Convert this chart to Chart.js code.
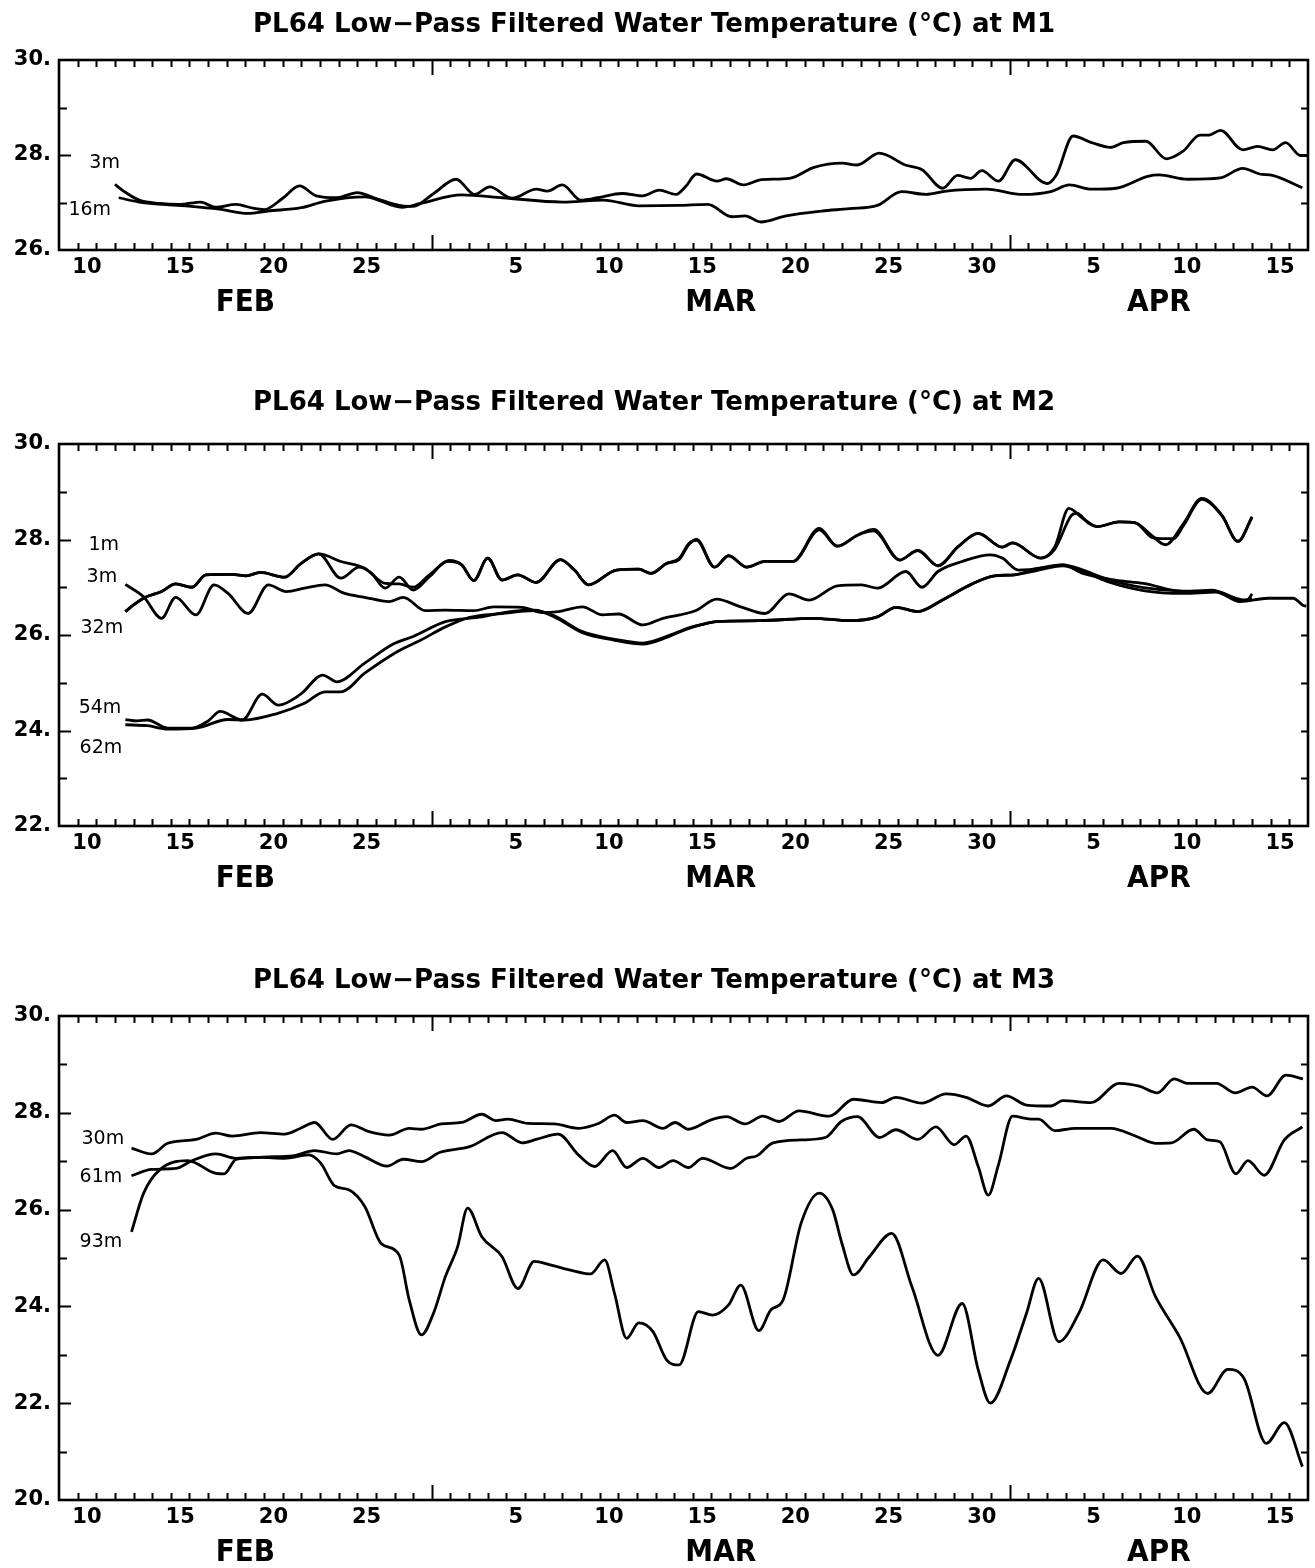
<!DOCTYPE html>
<html lang="en">
<head>
<meta charset="UTF-8">
<title>PL64 Low-Pass Filtered Water Temperature</title>
<script src="https://cdn.jsdelivr.net/npm/chart.js"></script>
<style>
  body { margin: 0; background: #fff; }
  #page { position: relative; width: 1315px; height: 1568px; }
  canvas { position: absolute; left: 0; }
</style>
</head>
<body>
<div id="page">
  <canvas id="m1" width="1315" height="330" style="top:0px"></canvas>
  <canvas id="m2" width="1315" height="540" style="top:370px"></canvas>
  <canvas id="m3" width="1315" height="628" style="top:940px"></canvas>
</div>
<script>
// time is in days since Jan 1 00:00 (so 59 = Mar 1, 90 = Apr 1)
const monthNames = ['FEB', 'MAR', 'APR'];
const monthEdges = [39, 59, 90, 106];
const dayTicks  = [40.5, 45.5, 50.5, 55.5, 63.5, 68.5, 73.5, 78.5, 83.5, 88.5, 94.5, 99.5, 104.5];
const dayLabels = ['10', '15', '20', '25', '5', '10', '15', '20', '25', '30', '5', '10', '15'];

// M1  [day, degC]
const m1_3m = [[42.0,27.38],[42.5,27.23],[43.3,27.05],[44.4,26.98],[45.5,26.96],[46.6,27.01],[47.4,26.9],[48.5,26.96],[49.4,26.88],[50.0,26.85],[51.0,27.09],[51.9,27.35],[52.8,27.14],[53.9,27.1],[55.0,27.21],[55.9,27.1],[57.4,26.93],[58.0,26.92],[59.1,27.19],[60.3,27.49],[61.3,27.17],[62.1,27.33],[63.3,27.09],[64.6,27.28],[65.2,27.24],[66.0,27.37],[67.0,27.05],[67.9,27.1],[69.2,27.19],[70.3,27.14],[71.2,27.26],[72.1,27.17],[72.6,27.33],[73.2,27.6],[74.3,27.45],[74.8,27.5],[75.7,27.37],[76.7,27.48],[78.2,27.51],[79.5,27.74],[81.0,27.83],[81.8,27.79],[83.0,28.04],[84.4,27.79],[85.3,27.69],[86.4,27.3],[87.2,27.57],[87.9,27.51],[88.5,27.67],[89.4,27.45],[90.3,27.9],[92.0,27.4],[92.5,27.58],[93.4,28.4],[94.4,28.26],[95.4,28.16],[96.1,28.26],[97.3,28.29],[98.4,27.92],[99.3,28.08],[100.2,28.42],[100.7,28.42],[101.3,28.52],[102.5,28.11],[103.3,28.18],[104.1,28.11],[104.8,28.26],[105.6,27.99],[106.0,27.99]];
const m1_16m = [[42.2,27.1],[43.3,27.01],[44.6,26.96],[46.1,26.92],[47.6,26.86],[49.15,26.77],[50.2,26.82],[52.0,26.89],[53.3,27.03],[55.4,27.12],[57.4,26.9],[58.4,26.98],[60.6,27.16],[62.8,27.1],[66.0,27.01],[68.2,27.05],[70.1,26.93],[72.3,26.94],[73.8,26.96],[75.1,26.7],[75.8,26.72],[76.65,26.59],[78.0,26.72],[79.9,26.82],[81.4,26.87],[82.9,26.94],[84.2,27.23],[85.5,27.17],[86.6,27.24],[88.75,27.28],[90.7,27.17],[92.2,27.23],[93.2,27.37],[94.4,27.28],[95.7,27.3],[97.4,27.55],[98.0,27.58],[99.55,27.49],[101.3,27.52],[102.5,27.72],[103.4,27.6],[104.1,27.57],[105.7,27.31]];

// M2
const m2_1m = [[42.56,26.49],[43.0,26.63],[43.64,26.79],[44.5,26.91],[45.26,27.07],[46.13,27.0],[46.88,27.26],[48.29,27.27],[49.04,27.24],[49.8,27.31],[51.1,27.21],[51.96,27.49],[52.93,27.7],[54.12,27.54],[55.4,27.4],[56.5,27.08],[57.25,27.07],[58.0,27.0],[58.87,27.26],[59.95,27.56],[60.6,27.47],[61.25,27.14],[62.0,27.61],[62.76,27.15],[63.6,27.26],[64.6,27.1],[65.9,27.58],[66.65,27.36],[67.4,27.05],[68.9,27.36],[70.1,27.38],[70.75,27.29],[71.6,27.5],[72.26,27.58],[72.8,27.9],[73.2,28.0],[74.17,27.42],[74.92,27.66],[75.9,27.42],[76.87,27.54],[78.38,27.54],[79.78,28.23],[80.75,27.86],[81.83,28.09],[82.7,28.21],[84.1,27.57],[85.07,27.77],[86.15,27.45],[87.23,27.85],[88.31,28.13],[89.6,27.84],[90.15,27.93],[91.66,27.61],[92.42,27.85],[93.17,28.65],[93.93,28.44],[94.69,28.27],[95.87,28.37],[96.74,28.35],[97.6,28.09],[98.36,27.89],[99.33,28.34],[100.3,28.86],[101.38,28.51],[102.24,27.96],[103.0,28.48]];
const m2_3m = [[42.56,26.49],[43.0,26.63],[43.64,26.79],[44.5,26.91],[45.26,27.07],[46.13,27.0],[46.88,27.26],[48.29,27.27],[49.04,27.24],[49.8,27.31],[51.1,27.21],[51.96,27.49],[52.93,27.7],[54.12,27.19],[55.1,27.42],[55.74,27.3],[56.5,26.98],[57.25,27.21],[58.0,26.94],[58.87,27.22],[59.84,27.54],[60.6,27.47],[61.25,27.14],[62.0,27.61],[62.76,27.15],[63.6,27.26],[64.6,27.1],[65.9,27.58],[66.65,27.36],[67.4,27.05],[68.9,27.36],[70.1,27.38],[70.75,27.29],[71.6,27.5],[72.26,27.6],[72.8,27.92],[73.2,27.98],[74.17,27.42],[74.92,27.66],[75.9,27.42],[76.87,27.54],[78.38,27.54],[79.78,28.2],[80.75,27.86],[81.83,28.09],[82.7,28.18],[84.1,27.57],[85.07,27.77],[86.15,27.45],[87.23,27.85],[88.31,28.13],[89.6,27.84],[90.15,27.93],[91.66,27.61],[92.42,27.8],[93.3,28.5],[93.6,28.55],[94.2,28.35],[94.69,28.27],[95.87,28.37],[96.74,28.35],[97.6,28.05],[98.1,28.02],[98.8,28.02],[99.33,28.3],[100.3,28.84],[101.38,28.5],[102.24,27.96],[103.0,28.46]];
const m2_32m = [[42.56,27.06],[43.54,26.8],[44.5,26.35],[45.26,26.79],[46.34,26.42],[47.32,27.05],[48.07,26.87],[49.15,26.45],[50.23,27.05],[51.2,26.91],[52.17,26.98],[53.26,27.05],[54.33,26.87],[55.4,26.79],[56.7,26.7],[57.47,26.79],[58.65,26.51],[59.73,26.52],[61.25,26.51],[62.33,26.59],[63.84,26.58],[64.92,26.47],[65.78,26.49],[67.08,26.59],[68.16,26.42],[69.02,26.44],[70.32,26.21],[71.4,26.35],[72.3,26.42],[73.2,26.52],[74.27,26.75],[75.57,26.59],[76.87,26.45],[78.16,26.86],[79.24,26.73],[80.75,27.03],[82.05,27.05],[82.9,26.98],[84.43,27.33],[85.29,27.0],[86.15,27.33],[87.45,27.54],[88.96,27.68],[89.6,27.61],[90.47,27.36],[91.77,27.4],[92.85,27.47],[93.93,27.29],[95.66,27.15],[97.17,27.08],[99.33,26.91],[100.84,26.94],[102.13,26.77],[102.7,26.72],[103.0,26.86]];
const m2_54m = [[42.56,24.23],[43.2,24.2],[43.75,24.22],[44.83,24.05],[46.13,24.05],[47.0,24.2],[47.64,24.4],[48.83,24.22],[49.9,24.76],[50.77,24.53],[51.96,24.76],[53.15,25.16],[53.9,25.02],[55.4,25.41],[56.93,25.81],[58.0,25.97],[59.73,26.28],[61.68,26.38],[63.2,26.49],[64.5,26.52],[65.57,26.4],[67.08,26.07],[68.8,25.91],[70.32,25.83],[71.6,25.97],[72.87,26.16],[73.4,26.21],[74.27,26.28],[76.65,26.3],[79.46,26.35],[81.4,26.3],[82.9,26.38],[83.9,26.58],[85.07,26.49],[86.37,26.73],[87.88,27.05],[89.18,27.24],[90.26,27.26],[91.33,27.38],[92.85,27.47],[93.93,27.36],[95.22,27.17],[97.17,26.99],[99.33,26.92],[101.06,26.91],[102.35,26.72],[103.0,26.76]];
const m2_62m = [[42.56,24.12],[43.75,24.1],[44.83,24.03],[46.34,24.05],[48.07,24.23],[48.94,24.22],[50.66,24.35],[52.17,24.57],[53.26,24.81],[54.12,24.81],[55.4,25.2],[57.14,25.65],[58.44,25.9],[59.73,26.17],[61.03,26.37],[62.76,26.45],[64.5,26.51],[65.57,26.38],[67.08,26.05],[68.8,25.89],[70.32,25.81],[71.6,25.95],[72.33,26.07],[73.4,26.21],[74.27,26.28],[76.65,26.3],[79.46,26.35],[81.4,26.3],[82.9,26.38],[83.9,26.58],[85.07,26.49],[86.37,26.73],[87.88,27.05],[89.18,27.24],[90.26,27.26],[91.33,27.34],[92.85,27.45],[93.93,27.33],[95.22,27.12],[97.17,26.93],[99.33,26.87],[101.06,26.9],[102.35,26.7],[103.86,26.77],[105.2,26.77],[105.7,26.63],[105.9,26.6]];

// M3
const m3_30m = [[42.89,27.27],[43.97,27.15],[44.83,27.37],[46.34,27.45],[47.42,27.58],[48.29,27.52],[49.8,27.59],[51.1,27.56],[51.96,27.68],[52.71,27.8],[53.69,27.45],[54.66,27.75],[55.63,27.61],[56.71,27.54],[57.79,27.68],[58.44,27.66],[59.52,27.77],[60.6,27.8],[61.68,27.97],[62.43,27.84],[63.08,27.87],[64.16,27.78],[65.57,27.77],[66.86,27.68],[67.94,27.78],[68.8,27.95],[69.45,27.8],[70.32,27.84],[71.4,27.68],[72.05,27.8],[72.76,27.66],[73.95,27.85],[74.81,27.92],[75.79,27.77],[76.76,27.93],[77.62,27.82],[78.7,28.04],[80.32,27.93],[81.62,28.28],[83.13,28.21],[83.89,28.32],[85.29,28.2],[86.59,28.39],[87.66,28.32],[88.85,28.14],[89.82,28.35],[90.9,28.16],[92.2,28.14],[92.85,28.25],[94.36,28.21],[95.87,28.61],[96.95,28.55],[97.92,28.41],[98.82,28.7],[99.5,28.61],[101.09,28.61],[102.1,28.41],[103.0,28.53],[103.8,28.35],[104.82,28.78],[105.73,28.7]];
const m3_61m = [[42.89,26.7],[43.97,26.83],[45.26,26.85],[46.13,27.01],[47.42,27.15],[48.5,27.06],[50.23,27.09],[51.53,27.11],[52.71,27.22],[53.9,27.15],[54.55,27.22],[55.41,27.09],[56.6,26.9],[57.47,27.04],[58.44,26.99],[59.41,27.18],[61.03,27.3],[62.76,27.59],[63.84,27.38],[64.6,27.45],[65.78,27.56],[66.86,27.13],[67.73,26.89],[68.7,27.22],[69.45,26.87],[70.32,27.06],[71.18,26.87],[71.94,27.01],[72.76,26.87],[73.52,27.06],[75.03,26.85],[75.89,27.06],[76.43,27.11],[77.3,27.38],[78.81,27.44],[80.11,27.49],[80.97,27.82],[81.83,27.92],[83.02,27.49],[83.89,27.65],[85.07,27.45],[86.04,27.71],[87.02,27.34],[87.66,27.52],[88.31,26.89],[88.85,26.3],[89.39,26.92],[90.15,27.93],[91.12,27.87],[91.55,27.87],[92.42,27.63],[93.5,27.68],[95.44,27.68],[96.74,27.52],[97.82,27.37],[98.68,27.38],[99.87,27.66],[100.62,27.44],[101.27,27.4],[102.13,26.74],[102.78,27.01],[103.65,26.71],[104.73,27.44],[105.7,27.71]];
const m3_93m = [[42.89,25.54],[43.54,26.34],[44.4,26.82],[45.9,27.01],[47.42,26.75],[47.86,26.74],[48.5,27.04],[49.8,27.08],[51.1,27.06],[52.39,27.13],[53.04,26.96],[53.79,26.49],[54.55,26.41],[55.41,26.06],[56.28,25.3],[57.25,25.06],[57.79,24.13],[58.44,23.41],[59.09,23.86],[59.73,24.62],[60.38,25.23],[60.92,26.03],[61.68,25.44],[62.76,25.03],[63.62,24.37],[64.49,24.93],[65.35,24.86],[66.43,24.75],[67.51,24.67],[68.27,24.96],[68.8,24.27],[69.45,23.34],[70.1,23.66],[70.86,23.48],[71.6,22.89],[72.26,22.79],[73.3,23.89],[74.06,23.82],[74.92,24.03],[75.57,24.44],[76.54,23.5],[77.19,23.93],[77.84,24.13],[78.81,25.72],[79.78,26.34],[80.5,26.0],[81.0,25.3],[81.62,24.65],[82.48,25.03],[83.67,25.51],[84.75,24.41],[86.15,22.99],[87.45,24.06],[88.31,22.69],[88.96,22.0],[90.04,22.89],[90.9,23.86],[91.55,24.58],[92.63,23.27],[93.71,23.86],[95.01,24.96],[95.98,24.68],[96.85,25.04],[97.82,24.2],[99.11,23.37],[100.62,22.2],[101.7,22.7],[102.57,22.51],[103.76,21.17],[104.73,21.6],[105.7,20.69]];

// depth tags [text, day, degC]
const m1Tags = [['3m', 41.45, 27.83], ['16m', 40.65, 26.84]];
const m2Tags = [['1m', 41.4, 27.88], ['3m', 41.3, 27.21], ['32m', 41.3, 26.15], ['54m', 41.2, 24.47], ['62m', 41.25, 23.63]];
const m3Tags = [['30m', 41.35, 27.45], ['61m', 41.25, 26.68], ['93m', 41.25, 25.32]];

Chart.defaults.color = '#000';
Chart.defaults.font.family = '"DejaVu Sans", Verdana, sans-serif';

const frameTicks = {
  id: 'frameTicks',
  afterDatasetsDraw(chart, args, opts) {
    const { ctx, chartArea: a, scales: { x, y } } = chart;
    ctx.save();
    ctx.strokeStyle = '#000';
    ctx.lineWidth = 2;
    ctx.beginPath();
    for (let d = Math.ceil(x.min) + 1; d < x.max; d++) {
      const px = Math.round(x.getPixelForValue(d)) + 0.5;
      const len = monthEdges.includes(d) ? 15 : 7;
      ctx.moveTo(px, a.bottom); ctx.lineTo(px, a.bottom - len);
      ctx.moveTo(px, a.top); ctx.lineTo(px, a.top + len);
    }
    for (let v = y.min + 1; v < y.max; v++) {
      const py = Math.round(y.getPixelForValue(v)) + 0.5;
      ctx.moveTo(a.left, py); ctx.lineTo(a.left + (v % 2 === 0 ? 12 : 8), py);
      ctx.moveTo(a.right, py); ctx.lineTo(a.right - 7, py);
    }
    ctx.stroke();
    ctx.lineWidth = 2.6;
    ctx.strokeRect(a.left, a.top, a.right - a.left, a.bottom - a.top);

    ctx.fillStyle = '#000';
    ctx.textAlign = 'center';
    ctx.textBaseline = 'middle';
    ctx.font = 'bold 31px "DejaVu Sans Condensed", "Liberation Sans Narrow", sans-serif';
    for (let i = 0; i < monthNames.length; i++) {
      const cx = (x.getPixelForValue(monthEdges[i]) + x.getPixelForValue(monthEdges[i + 1])) / 2;
      ctx.fillText(monthNames[i], cx, a.bottom + 53);
    }
    ctx.font = '19px "DejaVu Sans", sans-serif';
    for (const [txt, t, v] of opts.tags) {
      ctx.fillText(txt, x.getPixelForValue(t), y.getPixelForValue(v));
    }
    ctx.restore();
  }
};

function makeChart(id, station, yMin, yMax, series, tags, titlePad, xHeight) {
  new Chart(document.getElementById(id), {
    type: 'line',
    data: {
      datasets: series.map(s => ({
        data: s.map(p => ({ x: p[0], y: p[1] })),
        borderColor: '#000',
        borderWidth: 2.8,
        pointRadius: 0,
        fill: false,
        cubicInterpolationMode: 'monotone'
      }))
    },
    options: {
      responsive: false,
      animation: false,
      events: [],
      layout: { padding: { left: 0, right: 7, top: 0, bottom: 0 } },
      plugins: {
        legend: { display: false },
        tooltip: { enabled: false },
        title: {
          display: true,
          text: 'PL64 Low\u2212Pass Filtered Water Temperature (\u00B0C) at ' + station,
          font: { size: 26, weight: 'bold' },
          color: '#000',
          padding: titlePad
        },
        frameTicks: { tags: tags }
      },
      scales: {
        x: {
          type: 'linear',
          min: monthEdges[0],
          max: monthEdges[3],
          grid: { display: false, drawTicks: false },
          border: { display: false },
          afterBuildTicks: sc => { sc.ticks = dayTicks.map(v => ({ value: v })); },
          afterFit: sc => { sc.height = xHeight; },
          ticks: {
            autoSkip: false,
            maxRotation: 0,
            padding: 5,
            font: { size: 21, weight: 'bold' },
            callback: (v, i) => dayLabels[i]
          }
        },
        y: {
          min: yMin,
          max: yMax,
          grid: { display: false, drawTicks: false },
          border: { display: false },
          afterFit: sc => { sc.width = 59; },
          ticks: {
            stepSize: 2,
            padding: 8,
            font: { size: 21, weight: 'bold' },
            callback: v => v + '.'
          }
        }
      }
    },
    plugins: [frameTicks]
  });
}

makeChart('m1', 'M1', 26, 30, [m1_3m, m1_16m], m1Tags, { top: 9.4, bottom: 19.4 }, 80);
makeChart('m2', 'M2', 22, 30, [m2_1m, m2_3m, m2_32m, m2_54m, m2_62m], m2Tags, { top: 17.4, bottom: 25.4 }, 84);
makeChart('m3', 'M3', 20, 30, [m3_30m, m3_61m, m3_93m], m3Tags, { top: 25.9, bottom: 18.9 }, 68);
</script>
</body>
</html>
